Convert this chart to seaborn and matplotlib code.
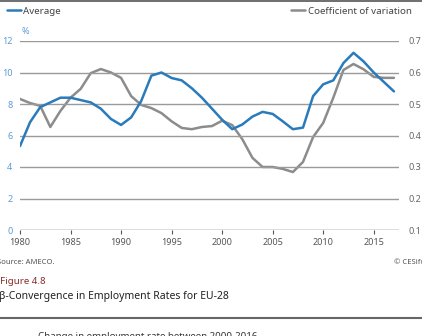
import numpy as np
import pandas as pd
import seaborn as sns
import matplotlib.pyplot as plt
from matplotlib.lines import Line2D

# Data
years = list(range(1980, 2018))
average = [5.33, 6.85, 7.8, 8.1, 8.4, 8.4, 8.25, 8.1, 7.7, 7.05,
           6.67, 7.15, 8.2, 9.8, 10.0, 9.65, 9.5, 9.0, 8.4, 7.7,
           7.0, 6.4, 6.7, 7.2, 7.5, 7.37, 6.9, 6.4, 6.5, 8.5,
           9.25, 9.5, 10.6, 11.25, 10.7, 10.0, 9.4, 8.8]
coef_var = [0.516, 0.503, 0.494, 0.427, 0.478, 0.52, 0.548, 0.598, 0.611, 0.60,
            0.583, 0.525, 0.497, 0.487, 0.471, 0.445, 0.424, 0.42, 0.427, 0.43,
            0.447, 0.433, 0.388, 0.329, 0.30, 0.30, 0.294, 0.284, 0.316, 0.395,
            0.44, 0.52, 0.608, 0.627, 0.61, 0.586, 0.583, 0.583]
left_ticks = [0, 2, 4, 6, 8, 10, 12]
right_ticks = [0.1, 0.2, 0.3, 0.4, 0.5, 0.6, 0.7]
x_ticks = [1980, 1985, 1990, 1995, 2000, 2005, 2010, 2015]

df = pd.DataFrame({"year": years, "average": average, "cv": coef_var})

BLUE = "#2a7bbb"
GREY = "#8c8c8c"
GRID = "#9a9a9a"

sns.set_style("white")
plt.rcParams["font.family"] = ["Noto Sans", "DejaVu Sans"]

W, H = 422, 336
fig = plt.figure(figsize=(W / 100, H / 100), dpi=100)
ax = fig.add_axes([20 / W, 1 - 230 / H, 379 / W, 189 / H])
ax2 = ax.twinx()

sns.lineplot(data=df, x="year", y="average", ax=ax, color=BLUE, lw=1.8, legend=False, zorder=3)
sns.lineplot(data=df, x="year", y="cv", ax=ax2, color=GREY, lw=1.8, legend=False, zorder=2)

ax.set_xlim(1980, 2017.5)
ax.set_ylim(0, 12)
ax2.set_ylim(0.1, 0.7)
ax.set_yticks(left_ticks)
ax2.set_yticks(right_ticks)
ax.set_xticks(x_ticks)
ax.set_xlabel("")
ax.set_ylabel("")
ax2.set_ylabel("")

# gridlines drawn by hand to sit on the left scale
for t in left_ticks[1:]:
    ax.axhline(t, color=GRID, lw=1.0, zorder=1)
ax.axhline(0, color="#555555", lw=1.0, zorder=1)

for a in (ax, ax2):
    for s in a.spines.values():
        s.set_visible(False)
ax.set_zorder(ax2.get_zorder() + 1)
ax.patch.set_visible(False)

ax.tick_params(axis="y", length=0, pad=5.5, labelsize=6.5, labelcolor="#5b9bd5")
ax2.tick_params(axis="y", length=0, pad=7, labelsize=6.5, labelcolor="#666666")
ax.tick_params(axis="x", length=3, width=0.8, color="#555555", pad=3,
               labelsize=6.5, labelcolor="#555555", direction="out", bottom=True)
ax.set_yticklabels([str(t) for t in left_ticks])
ax2.set_yticklabels([f"{t:.1f}" for t in right_ticks])

ax.text(22 / W, 1 - 32 / H, "%", transform=fig.transFigure, fontsize=6.5,
        color="#5b9bd5", va="center", ha="left")

# legends
h1 = Line2D([], [], color=BLUE, lw=1.8)
h2 = Line2D([], [], color=GREY, lw=1.8)
fig.legend([h1], ["Average"], loc="center left", bbox_to_anchor=(2 / W, 1 - 11 / H),
           frameon=False, fontsize=7, handlelength=1.5, handletextpad=0.2,
           labelcolor="#444444", borderpad=0)
fig.legend([h2], ["Coefficient of variation"], loc="center left",
           bbox_to_anchor=(286 / W, 1 - 11 / H), frameon=False, fontsize=7,
           handlelength=1.5, handletextpad=0.3, labelcolor="#444444", borderpad=0)

# page text around the chart
fig.add_artist(Line2D([0, 1], [1 - 0.5 / H, 1 - 0.5 / H], color="#555555", lw=1.2))
fig.text(-3 / W, 1 - 262 / H, "Source: AMECO.", fontsize=5.5, color="#555555", va="center")
fig.text(425 / W, 1 - 262 / H, "© CESifo", fontsize=5.5, color="#555555", va="center", ha="right")
fig.text(0, 1 - 281 / H, "Figure 4.8", fontsize=7, color="#8b2d2d", va="center")
fig.text(-1 / W, 1 - 297 / H, "β-Convergence in Employment Rates for EU-28", fontsize=7.5,
         fontweight="bold", color="#222222", va="center")
fig.add_artist(Line2D([0, 1], [1 - 318 / H, 1 - 318 / H], color="#666666", lw=1.5))
fig.text(38 / W, 1 - 339 / H, "Change in employment rate between 2000-2016.", fontsize=7,
         color="#333333", va="baseline")

fig.savefig("out.png", dpi=100)
